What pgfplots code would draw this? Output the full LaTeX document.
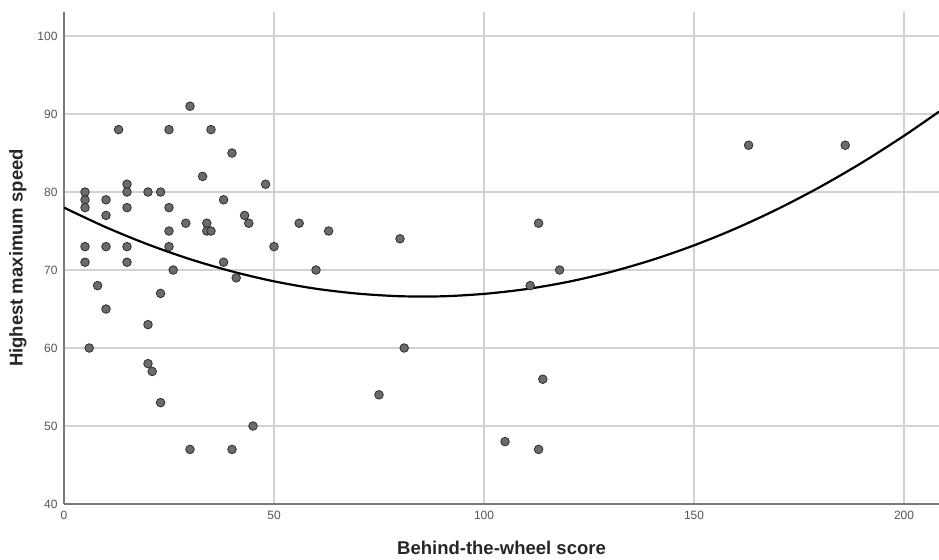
\documentclass[border=0pt]{standalone}
\usepackage{pgfplots}
\pgfplotsset{compat=1.18}
\usepackage{fontspec}
\setmainfont{Liberation Sans}
\usetikzlibrary{calc}
\definecolor{ptfill}{HTML}{6B6B6B}
\definecolor{ptdraw}{HTML}{2E2E2E}
\definecolor{gridgray}{HTML}{D2D2D2}
\definecolor{axisgray}{HTML}{7A7A7A}
\definecolor{tickgray}{HTML}{555555}
\begin{document}
\begin{tikzpicture}
\begin{axis}[
  name=ax,
  scale only axis,
  width=875pt, height=492pt,
  xmin=0, xmax=208.33, ymin=40, ymax=103.08,
  xtick={0,50,100,150,200},
  ytick={40,50,60,70,80,90,100},
  grid=major,
  major grid style={draw=gridgray, line width=1.1pt},
  axis x line*=bottom, axis y line*=left,
  axis line style={draw=axisgray, line width=1.2pt, -},
  x axis line style={-}, y axis line style={-},
  tick style={draw=none},
  ticklabel style={font=\fontsize{12}{14}\selectfont, text=tickgray},
  xticklabel style={yshift=-4pt},
  yticklabel style={xshift=-3pt},
  /pgf/number format/assume math mode=true,
  xlabel={Behind-the-wheel score},
  ylabel={Highest maximum speed},
  label style={font=\fontsize{18.5}{22}\selectfont\bfseries, text=black!85},
  xlabel style={at={(axis description cs:0.5,-0.0894)}, anchor=center},
  ylabel style={at={(axis description cs:-0.0526,0.5)}, anchor=center},
]
\addplot[black, line width=2.2pt, smooth, no markers] coordinates {
(0,78.00) (10,75.48) (20,73.28) (30,71.39) (40,69.82) (50,68.55) (60,67.60)
(70,66.97) (80,66.64) (90,66.63) (100,66.94) (110,67.55) (120,68.48)
(130,69.73) (140,71.29) (150,73.16) (160,75.34) (170,77.84) (180,80.65)
(190,83.77) (200,87.21) (208.33,90.30)
};
\addplot[only marks, mark=*, mark size=4.3pt,
  mark options={fill=ptfill, draw=ptdraw, line width=0.8pt}] coordinates {
(5,80) (5,79) (5,78) (5,73) (5,71)
(6,60) (8,68)
(10,79) (10,77) (10,73) (10,65)
(13,88)
(15,81) (15,80) (15,78) (15,73) (15,71)
(20,80) (20,63) (20,58) (21,57)
(23,80) (23,67) (23,53)
(25,88) (25,78) (25,75) (25,73) (26,70)
(29,76) (30,91) (30,47)
(33,82) (34,76) (34,75) (35,75) (35,88)
(38,79) (38,71) (40,85) (40,47) (41,69)
(43,77) (44,76) (45,50) (48,81) (50,73)
(56,76) (60,70) (63,75)
(75,54) (80,74) (81,60)
(105,48) (111,68) (113,76) (113,47) (114,56) (118,70)
(163,86) (186,86)
};
\end{axis}
\pgfresetboundingbox
\path ($(ax.south west)+(-64pt,-55pt)$) rectangle ($(ax.north east)+(0,12pt)$);
\end{tikzpicture}
\end{document}
